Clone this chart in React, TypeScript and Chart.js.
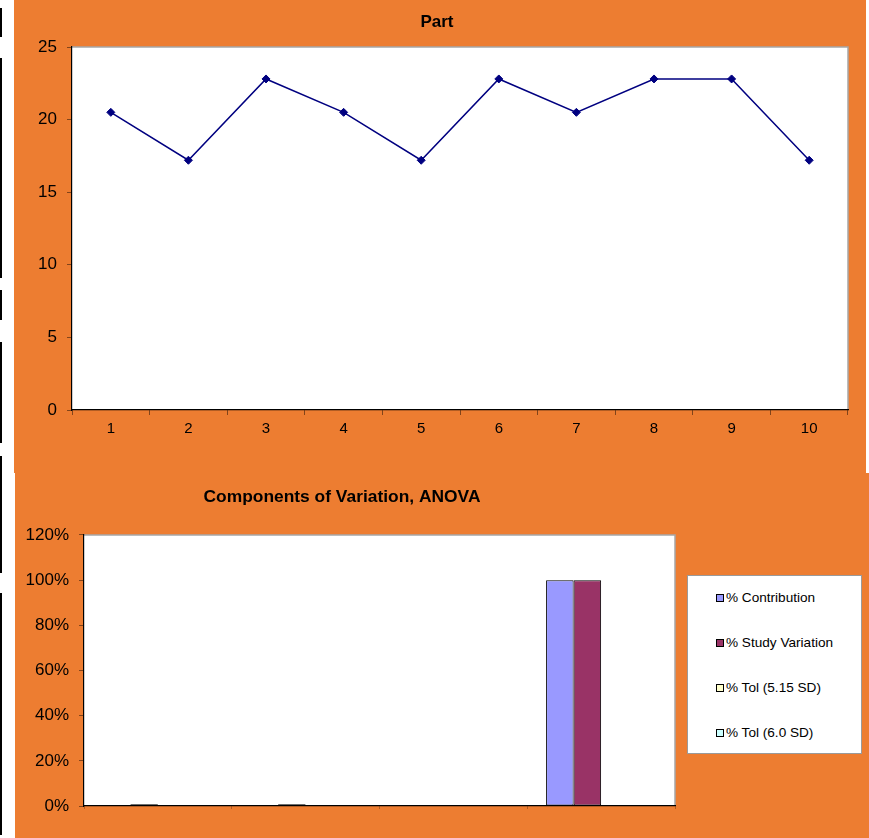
import React, { useEffect, useRef } from 'react';
import { Chart, registerables } from 'chart.js';

Chart.register(...registerables);

// ---------- data ----------
const partLabels = ['1', '2', '3', '4', '5', '6', '7', '8', '9', '10'];
const partValues = [20.5, 17.2, 22.8, 20.5, 17.2, 22.8, 20.5, 22.8, 22.8, 17.2];
const partYMin = 0;
const partYMax = 25;
const partYStep = 5;

const componentCategories = ['Gage R&R', 'Repeat', 'Reprod', 'Part-to-Part'];
const contribution = [0.0001, 0.0001, 0, 1.0];
const studyVariation = [0.008, 0.008, 0, 1.0];
const tol515: (number | null)[] = [null, null, null, null];
const tol60: (number | null)[] = [null, null, null, null];
const seriesNames = ['% Contribution', '% Study Variation', '% Tol (5.15 SD)', '% Tol (6.0 SD)'];
const seriesColors = ['#9999FF', '#993366', '#FFFFCC', '#CCFFFF'];
const compYMin = 0;
const compYMax = 1.2;
const compYStep = 0.2;

// ---------- styling ----------
const ORANGE = '#ED7D31';
const FONT = 'Arial, "Liberation Sans", sans-serif';
const TICK_COLOR = 'rgba(0,0,0,0.45)';

const plotBg = {
  id: 'plotBg',
  beforeDraw(chart: any) {
    const { ctx, chartArea: a } = chart;
    ctx.save();
    ctx.fillStyle = '#ffffff';
    ctx.fillRect(a.left, a.top, a.right - a.left, a.bottom - a.top);
    ctx.strokeStyle = '#a6a6a6';
    ctx.lineWidth = 1.5;
    ctx.beginPath();
    ctx.moveTo(a.left, a.top);
    ctx.lineTo(a.right, a.top);
    ctx.lineTo(a.right, a.bottom);
    ctx.stroke();
    ctx.restore();
  },
};

function PartChart() {
  const ref = useRef<HTMLCanvasElement>(null);
  useEffect(() => {
    const chart = new Chart(ref.current!, {
      type: 'line',
      data: {
        labels: partLabels,
        datasets: [
          {
            label: 'Part',
            data: partValues,
            borderColor: '#000080',
            backgroundColor: '#000080',
            borderWidth: 1.5,
            pointStyle: 'rectRot',
            pointRadius: 4,
            pointBorderWidth: 1,
            tension: 0,
          },
        ],
      },
      options: {
        responsive: false,
        animation: false,
        layout: { padding: { left: 0, right: 18, top: 0, bottom: 0 } },
        plugins: {
          legend: { display: false },
          tooltip: { enabled: false },
          title: {
            display: true,
            text: 'Part',
            color: '#000',
            font: { family: FONT, size: 17, weight: 'bold' },
            padding: { top: 12, bottom: 14.6 },
          },
        },
        scales: {
          x: {
            type: 'category',
            offset: true,
            grid: { offset: true, drawOnChartArea: false, drawTicks: true, tickLength: 5, tickColor: TICK_COLOR },
            border: { display: true, color: '#000', width: 1.2 },
            ticks: { color: '#000', font: { family: FONT, size: 15 }, padding: 5, maxRotation: 0 },
            afterFit: (s: any) => { s.height = 63; },
          },
          y: {
            min: partYMin,
            max: partYMax,
            grid: { drawOnChartArea: false, drawTicks: true, tickLength: 5, tickColor: TICK_COLOR },
            border: { display: true, color: '#000', width: 1.2 },
            ticks: { stepSize: partYStep, color: '#000', font: { family: FONT, size: 17 }, padding: 10 },
            afterFit: (s: any) => { s.width = 46; },
          },
        },
      },
      plugins: [plotBg],
    } as any);
    return () => chart.destroy();
  }, []);
  return <canvas ref={ref} width={840} height={473} style={{ display: 'block' }} />;
}

function ComponentsChart() {
  const ref = useRef<HTMLCanvasElement>(null);
  useEffect(() => {
    const datasets = [contribution, studyVariation, tol515, tol60].map((d, i) => ({
      label: seriesNames[i],
      data: d,
      backgroundColor: seriesColors[i],
      borderColor: '#000',
      borderWidth: 1,
      borderSkipped: false,
      categoryPercentage: 0.745,
      barPercentage: 1,
    }));
    const chart = new Chart(ref.current!, {
      type: 'bar',
      data: { labels: componentCategories, datasets },
      options: {
        responsive: false,
        animation: false,
        layout: { padding: { left: 0, right: 194, top: 0, bottom: 0 } },
        plugins: {
          legend: { display: false },
          tooltip: { enabled: false },
          title: {
            display: true,
            text: 'Components of Variation, ANOVA',
            color: '#000',
            font: { family: FONT, size: 17.4, weight: 'bold' },
            padding: { top: 13.6, bottom: 27.5 },
          },
        },
        scales: {
          x: {
            type: 'category',
            offset: true,
            grid: { offset: true, drawOnChartArea: false, drawTicks: true, tickLength: 3, tickColor: 'rgba(0,0,0,0.25)' },
            border: { display: true, color: '#000', width: 1.2 },
            ticks: { display: false },
            afterFit: (s: any) => { s.height = 32; },
          },
          y: {
            min: compYMin,
            max: compYMax,
            grid: { drawOnChartArea: false, drawTicks: true, tickLength: 5, tickColor: TICK_COLOR },
            border: { display: true, color: '#000', width: 1.2 },
            ticks: {
              stepSize: compYStep,
              color: '#000',
              font: { family: FONT, size: 17 },
              padding: 10,
              callback: (v: any) => Math.round(Number(v) * 100) + '%',
            },
            afterFit: (s: any) => { s.width = 75; },
          },
        },
      },
      plugins: [plotBg],
    } as any);
    return () => chart.destroy();
  }, []);
  return <canvas ref={ref} width={860} height={365} style={{ display: 'block' }} />;
}

const edgeSegments = [
  [8, 37], [58, 278], [290, 320], [342, 443], [456, 573], [593, 835],
];

export default function App() {
  const legendTops = [14, 59, 104, 149];
  return (
    <div style={{ position: 'absolute', left: 0, top: 0, width: 869, height: 838, background: '#fff', overflow: 'hidden', fontFamily: FONT }}>
      {edgeSegments.map(([a, b], i) => (
        <div key={i} style={{ position: 'absolute', left: 0, top: a, width: 2, height: b - a, background: '#000' }} />
      ))}
      <div style={{ position: 'absolute', left: 14, top: 0, width: 852, height: 473, background: ORANGE }} />
      <div style={{ position: 'absolute', left: 15, top: 473, width: 854, height: 365, background: ORANGE }} />
      <div style={{ position: 'absolute', left: 26, top: 0, width: 840, height: 473 }}>
        <PartChart />
      </div>
      <div style={{ position: 'absolute', left: 9, top: 473, width: 860, height: 365 }}>
        <ComponentsChart />
      </div>
      <div
        style={{
          position: 'absolute', left: 687, top: 575, width: 175, height: 179,
          background: '#fff', border: '1px solid #9a9a9a', boxSizing: 'border-box',
        }}
      >
        {seriesNames.map((name, i) => (
          <div
            key={name}
            style={{
              position: 'absolute', left: 28, top: legendTops[i], height: 16, lineHeight: '16px',
              fontSize: 13.6, color: '#000', whiteSpace: 'nowrap', display: 'flex', alignItems: 'center',
            }}
          >
            <span style={{ display: 'inline-block', width: 6, height: 6, border: '1px solid #000', background: seriesColors[i], marginRight: 2 }} />
            <span>{name}</span>
          </div>
        ))}
      </div>
    </div>
  );
}
